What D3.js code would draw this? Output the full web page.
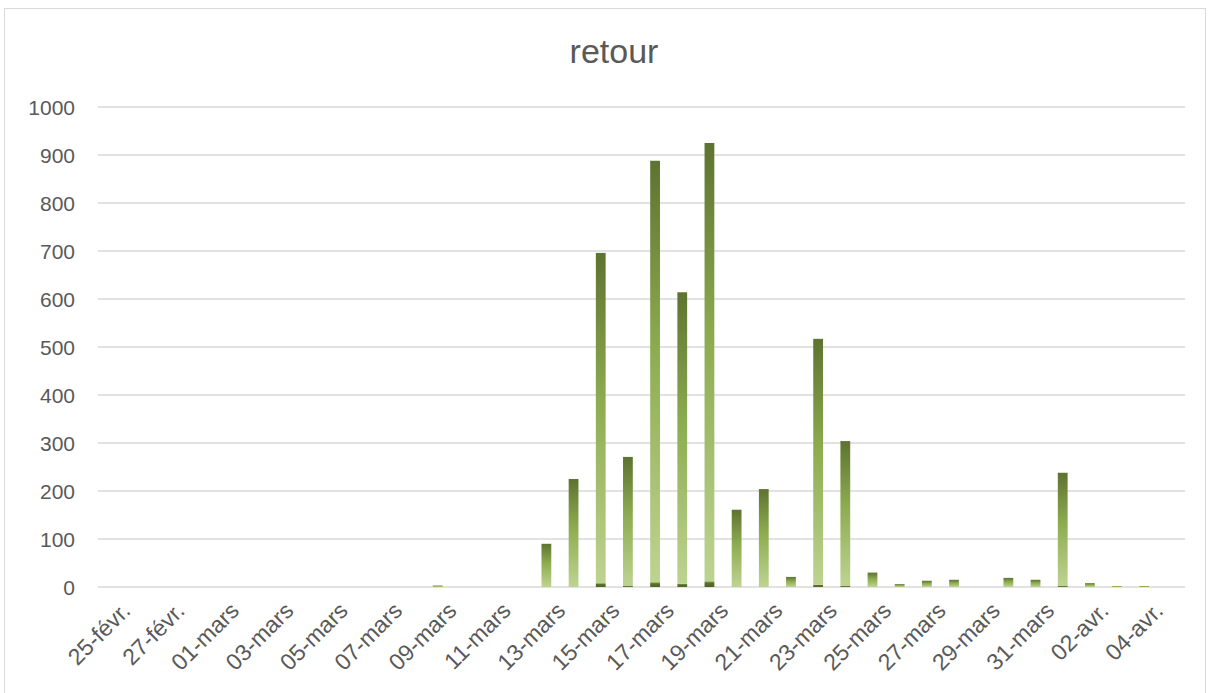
<!DOCTYPE html>
<html>
<head>
<meta charset="utf-8">
<script src="https://cdn.jsdelivr.net/npm/d3@7"></script>
<style>
  body { margin: 0; background: #fff; }
  svg { display: block; font-family: "Liberation Sans", Arial, sans-serif; }
</style>
</head>
<body>
<svg id="chart" width="1216" height="693"></svg>
<script>
// categories (one per day)
const jours = [
  "25-févr.", "26-févr.", "27-févr.", "28-févr.",
  "01-mars", "02-mars", "03-mars", "04-mars", "05-mars", "06-mars", "07-mars", "08-mars",
  "09-mars", "10-mars", "11-mars", "12-mars", "13-mars", "14-mars", "15-mars", "16-mars",
  "17-mars", "18-mars", "19-mars", "20-mars", "21-mars", "22-mars", "23-mars", "24-mars",
  "25-mars", "26-mars", "27-mars", "28-mars", "29-mars", "30-mars", "31-mars",
  "01-avr.", "02-avr.", "03-avr.", "04-avr.", "05-avr."
];

// lower (dark) segment
const serieBas = [
  0, 0, 0, 0,
  0, 0, 0, 0, 0, 0, 0, 0,
  0, 0, 0, 0, 0, 0, 8, 2,
  10, 7, 12, 0, 0, 0, 5, 2,
  0, 0, 0, 0, 0, 0, 0,
  2, 0, 0, 0, 0
];

// upper (gradient) segment
const serieHaut = [
  0, 0, 0, 0,
  0, 0, 0, 0, 0, 0, 0, 0,
  3, 0, 0, 0, 90, 225, 688, 269,
  878, 607, 913, 161, 204, 21, 512, 302,
  30, 6, 13, 15, 0, 19, 15,
  236, 8, 2, 2, 0
];

const yTicks = [0, 100, 200, 300, 400, 500, 600, 700, 800, 900, 1000];

const svg = d3.select("#chart");
const margin = { left: 98, right: 1185, top: 107, bottom: 587 };

// chart frame
svg.append("rect")
  .attr("x", 4.5).attr("y", 8.5)
  .attr("width", 1201).attr("height", 700)
  .attr("fill", "none").attr("stroke", "#d9d9d9");

svg.append("text")
  .attr("x", 614).attr("y", 63)
  .attr("text-anchor", "middle")
  .attr("font-size", 34)
  .attr("fill", "#595959")
  .text("retour");

const x = d3.scaleBand()
  .domain(jours)
  .range([margin.left, margin.right])
  .paddingInner(0.64)
  .paddingOuter(0.32);

const y = d3.scaleLinear()
  .domain([0, 1000])
  .range([margin.bottom, margin.top]);

const defs = svg.append("defs");
const gHaut = defs.append("linearGradient")
  .attr("id", "gradHaut")
  .attr("x1", 0).attr("y1", 0).attr("x2", 0).attr("y2", 1);
gHaut.append("stop").attr("offset", "0").attr("stop-color", "#5d7330");
gHaut.append("stop").attr("offset", "0.45").attr("stop-color", "#8dac50");
gHaut.append("stop").attr("offset", "1").attr("stop-color", "#bdd491");

const gBas = defs.append("linearGradient")
  .attr("id", "gradBas")
  .attr("x1", 0).attr("y1", 0).attr("x2", 0).attr("y2", 1);
gBas.append("stop").attr("offset", "0").attr("stop-color", "#8aa452");
gBas.append("stop").attr("offset", "0.35").attr("stop-color", "#5b702b");
gBas.append("stop").attr("offset", "1").attr("stop-color", "#4e6222");

// gridlines
svg.append("g")
  .selectAll("line")
  .data(yTicks)
  .join("line")
  .attr("x1", margin.left).attr("x2", margin.right)
  .attr("y1", d => y(d)).attr("y2", d => y(d))
  .attr("stroke", "#d9d9d9")
  .attr("stroke-width", 1.5);

// y labels
svg.append("g")
  .selectAll("text")
  .data(yTicks)
  .join("text")
  .attr("x", 75)
  .attr("y", d => y(d) + 7.5)
  .attr("text-anchor", "end")
  .attr("font-size", 21)
  .attr("fill", "#595959")
  .text(d => d);

// stacked bars
const data = jours.map((j, i) => ({ jour: j, bas: serieBas[i], haut: serieHaut[i] }));
const stack = d3.stack().keys(["bas", "haut"])(data);
const fills = { bas: "url(#gradBas)", haut: "url(#gradHaut)" };

svg.append("g")
  .selectAll("g")
  .data(stack)
  .join("g")
  .attr("fill", s => fills[s.key])
  .selectAll("rect")
  .data(s => s.filter(d => d[1] - d[0] > 0))
  .join("rect")
  .attr("x", d => x(d.data.jour))
  .attr("width", x.bandwidth())
  .attr("y", d => y(d[1]))
  .attr("height", d => y(d[0]) - y(d[1]));

// x labels every 2 days
svg.append("g")
  .selectAll("text")
  .data(jours.filter((d, i) => i % 2 === 0))
  .join("text")
  .attr("transform", d => `translate(${x(d) + x.bandwidth() / 2 + 8},${600}) rotate(-45)`)
  .attr("text-anchor", "end")
  .attr("dy", "0.75em")
  .attr("font-size", 23)
  .attr("fill", "#595959")
  .text(d => d);
</script>
</body>
</html>
